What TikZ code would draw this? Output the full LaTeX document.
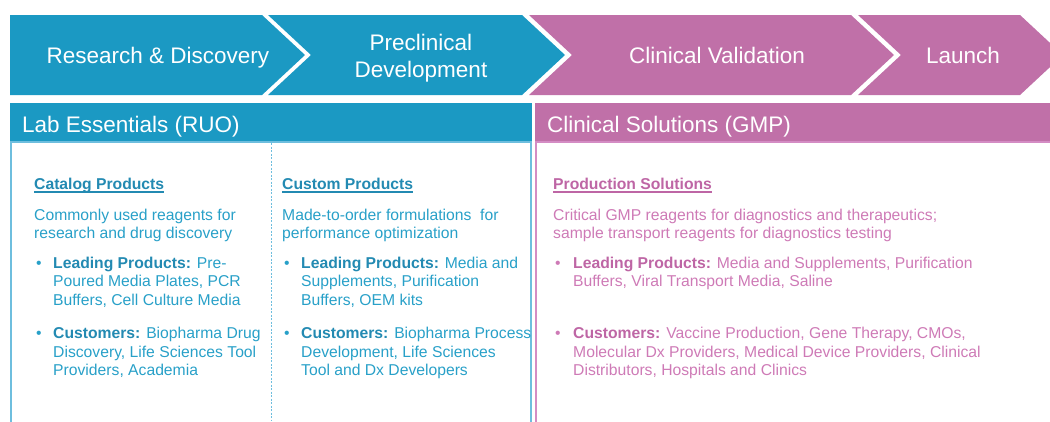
\documentclass[tikz,border=0pt]{standalone}
\usepackage{fontspec}
\setmainfont{Liberation Sans}
\usepackage{xcolor}
\usetikzlibrary{positioning}

\definecolor{labblue}{RGB}{27,153,195}
\definecolor{gmppink}{RGB}{192,112,168}
\definecolor{labline}{RGB}{110,190,222}
\definecolor{gmpline}{RGB}{212,140,196}
\definecolor{labtitle}{RGB}{35,138,178}
\definecolor{labtext}{RGB}{40,160,200}
\definecolor{gmptitle}{RGB}{190,102,165}
\definecolor{gmptext}{RGB}{206,122,182}

\begin{document}
\begin{tikzpicture}[x=1pt, y=-1pt]
    % Styles
    \tikzstyle{stage} = [text=white, font=\fontsize{22.5}{27}\selectfont, align=center, anchor=base, inner sep=0]
    \tikzstyle{bar} = [text=white, font=\fontsize{22.5}{27}\selectfont, anchor=base west, inner sep=0]
    \tikzstyle{coltitle} = [font=\bfseries\fontsize{15.7}{18.5}\selectfont, anchor=base west, inner sep=0]
    \tikzstyle{body} = [font=\fontsize{15.7}{18.5}\selectfont, align=left, anchor=base west, inner sep=0]
    \tikzstyle{bulletmark} = [font=\fontsize{15.7}{18.5}\selectfont, anchor=base west, inner sep=0]
    \tikzstyle{titleline} = [line width=1.3pt]

    \useasboundingbox (0,0) rectangle (1050,421);
    \clip (0,0) rectangle (1050,421);

    % Stage chevrons
    \fill[labblue] (10,15) -- (262,15) -- (305,55) -- (262,95) -- (10,95) -- cycle;
    \foreach \a/\b/\c in {268/522/labblue, 529/851/gmppink, 858/1020/gmppink}
        \fill[\c] (\a,15) -- (\b,15) -- (\b+43,55) -- (\b,95) -- (\a,95) -- (\a+43,55) -- cycle;

    \node[stage] (research) at (158,63) {Research \& Discovery};
    \node[stage] (preclinical) at (421,77) {Preclinical\\Development};
    \node[stage] (validation) at (717,63) {Clinical Validation};
    \node[stage] (launch) at (963,63) {Launch};

    % Segment bars
    \fill[labblue] (10,103) rectangle (532,142);
    \fill[gmppink] (535,103) rectangle (1050,142);
    \node[bar] (ruo) at (22,132) {Lab Essentials (RUO)};
    \node[bar] (gmp) at (547,132) {Clinical Solutions (GMP)};

    % Column frames
    \draw[labline, line width=1.2pt] (11,142) rectangle (531,440);
    \draw[gmpline, line width=1.2pt] (536,142) rectangle (1070,440);
    \draw[labline, line width=1pt, dash pattern=on 2pt off 1.5pt] (271,143) -- (271,421);

    % Catalog column
    \node[coltitle, text=labtitle] (catalog) at (34,189) {Catalog Products};
    \draw[titleline, labtitle] ([yshift=-3pt]catalog.base west) -- ([yshift=-3pt]catalog.base east);
    \node[body, text=labtext, below=49.5pt of catalog.base west, anchor=base west] (catdesc) {Commonly used reagents for\\research and drug discovery};
    \node[bulletmark, text=labtext, below right=29.5pt and 2pt of catdesc.base west, anchor=base west] (catdot1) {•};
    \node[body, text=labtext, below right=66.5pt and 19pt of catdesc.base west, anchor=base west] (catlead) {\textcolor{labtitle}{\textbf{Leading Products:}} Pre-\\Poured Media Plates, PCR\\Buffers, Cell Culture Media};
    \node[bulletmark, text=labtext, below=70.5pt of catdot1.base west, anchor=base west] (catdot2) {•};
    \node[body, text=labtext, below=70.5pt of catlead.base west, anchor=base west] (catcust) {\textcolor{labtitle}{\textbf{Customers:}} Biopharma Drug\\Discovery, Life Sciences Tool\\Providers, Academia};

    % Custom column
    \node[coltitle, text=labtitle] (custom) at (282,189) {Custom Products};
    \draw[titleline, labtitle] ([yshift=-3pt]custom.base west) -- ([yshift=-3pt]custom.base east);
    \node[body, text=labtext, below=49.5pt of custom.base west, anchor=base west] (cusdesc) {Made-to-order formulations~ for\\performance optimization};
    \node[bulletmark, text=labtext, below right=29.5pt and 2pt of cusdesc.base west, anchor=base west] (cusdot1) {•};
    \node[body, text=labtext, below right=66.5pt and 19pt of cusdesc.base west, anchor=base west] (cuslead) {\textcolor{labtitle}{\textbf{Leading Products:}} Media and\\Supplements, Purification\\Buffers, OEM kits};
    \node[bulletmark, text=labtext, below=70.5pt of cusdot1.base west, anchor=base west] (cusdot2) {•};
    \node[body, text=labtext, below=70.5pt of cuslead.base west, anchor=base west] (cuscust) {\textcolor{labtitle}{\textbf{Customers:}} Biopharma Process\\Development, Life Sciences\\Tool and Dx Developers};

    % Production column
    \node[coltitle, text=gmptitle] (production) at (553,189) {Production Solutions};
    \draw[titleline, gmptitle] ([yshift=-3pt]production.base west) -- ([yshift=-3pt]production.base east);
    \node[body, text=gmptext, below=49.5pt of production.base west, anchor=base west] (prodesc) {Critical GMP reagents for diagnostics and therapeutics;\\sample transport reagents for diagnostics testing};
    \node[bulletmark, text=gmptext, below right=29.5pt and 2pt of prodesc.base west, anchor=base west] (prodot1) {•};
    \node[body, text=gmptext, below right=48pt and 20pt of prodesc.base west, anchor=base west] (prolead) {\textcolor{gmptitle}{\textbf{Leading Products:}} Media and Supplements, Purification\\Buffers, Viral Transport Media, Saline};
    \node[bulletmark, text=gmptext, below=70.5pt of prodot1.base west, anchor=base west] (prodot2) {•};
    \node[body, text=gmptext, below=89pt of prolead.base west, anchor=base west] (procust) {\textcolor{gmptitle}{\textbf{Customers:}} Vaccine Production, Gene Therapy, CMOs,\\Molecular Dx Providers, Medical Device Providers, Clinical\\Distributors, Hospitals and Clinics};
\end{tikzpicture}
\end{document}
